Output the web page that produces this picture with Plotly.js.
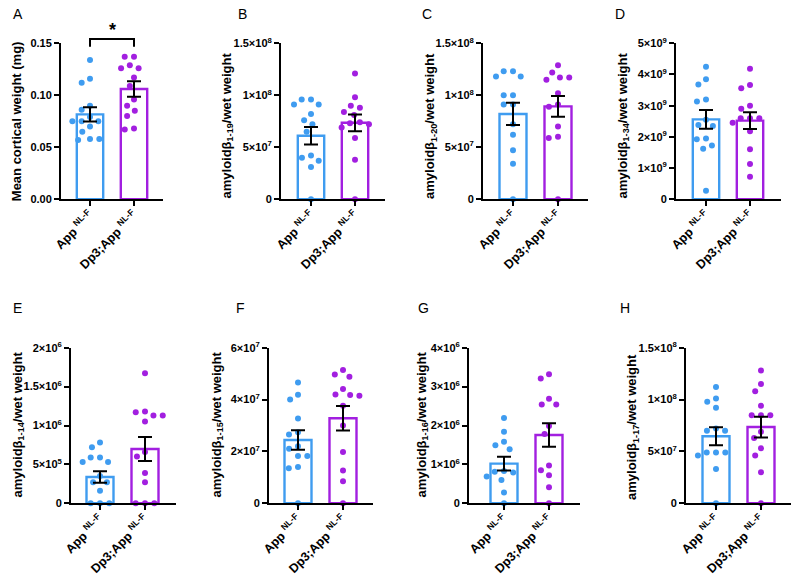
<!DOCTYPE html>
<html>
<head>
<meta charset="utf-8">
<script src="https://cdn.plot.ly/plotly-3.0.1.min.js"></script>
<style>html,body{margin:0;padding:0;background:#fff}#chart{width:800px;height:577px}</style>
</head>
<body>
<div id="chart"></div>
<script>
// ---------- data ----------
const categories = ['App <sup>NL-F</sup>', 'Dp3;App <sup>NL-F</sup>'];
const panelLetters = ['A', 'B', 'C', 'D', 'E', 'F', 'G', 'H'];
const yTitles = [
  'Mean cortical weight (mg)',
  'amyloidβ<sub>1-19</sub>/wet weight',
  'amyloidβ<sub>1-20</sub>/wet weight',
  'amyloidβ<sub>1-34</sub>/wet weight',
  'amyloidβ<sub>1-14</sub>/wet weight',
  'amyloidβ<sub>1-15</sub>/wet weight',
  'amyloidβ<sub>1-16</sub>/wet weight',
  'amyloidβ<sub>1-17</sub>/wet weight'
];

const appA = [0.134, 0.116, 0.112, 0.090, 0.086, 0.079, 0.075, 0.075, 0.075, 0.070, 0.065, 0.058, 0.058, 0.057];
const dp3A = [0.137, 0.137, 0.129, 0.126, 0.126, 0.117, 0.109, 0.096, 0.090, 0.085, 0.080, 0.068, 0.067];
const meanA = [0.0816, 0.1060];
const semA = [0.0068, 0.0075];

const appB = [9.6e7, 9.6e7, 9.1e7, 9.1e7, 8.2e7, 7.6e7, 7.2e7, 6.5e7, 4.2e7, 4.0e7, 3.7e7, 3.1e7, 0];
const dp3B = [1.21e8, 9.8e7, 9.0e7, 8.8e7, 8.4e7, 8.1e7, 7.4e7, 7.3e7, 7.2e7, 6.9e7, 5.9e7, 3.8e7, 0];
const meanB = [6.1e7, 7.35e7];
const semB = [0.835e7, 0.805e7];

const appC = [1.23e8, 1.23e8, 1.18e8, 1.18e8, 1.0e8, 1.0e8, 9.1e7, 9.1e7, 7.2e7, 6.2e7, 4.7e7, 3.4e7, 0];
const dp3C = [1.29e8, 1.22e8, 1.17e8, 1.17e8, 1.15e8, 1.02e8, 9.1e7, 8.9e7, 7.0e7, 6.0e7, 5.9e7, 0];
const meanC = [8.2e7, 8.93e7];
const semC = [1.07e7, 1.0e7];

const appD = [4.25e9, 3.85e9, 3.68e9, 3.2e9, 3.13e9, 2.55e9, 2.38e9, 2.35e9, 1.95e9, 1.92e9, 1.72e9, 1.62e9, 0.27e9];
const dp3D = [4.18e9, 3.66e9, 3.56e9, 3.0e9, 2.9e9, 2.6e9, 2.6e9, 2.6e9, 2.45e9, 2.18e9, 1.6e9, 1.13e9, 0.72e9];
const meanD = [2.56e9, 2.52e9];
const semD = [0.30e9, 0.27e9];

const appE = [7.8e5, 7.2e5, 5.9e5, 5.9e5, 5.3e5, 5.3e5, 3.5e5, 2.7e5, 2.7e5, 1.6e5, 0, 0, 0];
const dp3E = [1.67e6, 1.18e6, 1.17e6, 1.13e6, 1.13e6, 1.05e6, 6.6e5, 6.0e5, 3.9e5, 2.7e5, 0, 0, 0];
const meanE = [3.38e5, 6.98e5];
const semE = [0.73e5, 1.54e5];

const appF = [4.66e7, 4.19e7, 4.0e7, 3.27e7, 2.74e7, 2.65e7, 2.2e7, 2.1e7, 1.82e7, 1.82e7, 1.4e7, 1.35e7, 0];
const dp3F = [5.14e7, 4.97e7, 4.88e7, 4.41e7, 4.2e7, 4.18e7, 4.15e7, 3.76e7, 3.0e7, 1.98e7, 1.26e7, 0.85e7, 0];
const meanF = [2.44e7, 3.28e7];
const semF = [0.375e7, 0.475e7];

const appG = [2.19e6, 1.84e6, 1.58e6, 1.49e6, 1.39e6, 8.3e5, 8.1e5, 7.9e5, 6.9e5, 6.0e5, 2.8e5, 0];
const dp3G = [3.32e6, 3.21e6, 2.69e6, 2.54e6, 2.54e6, 1.99e6, 1.78e6, 9.7e5, 8.5e5, 7.2e5, 4.1e5, 0];
const meanG = [1.02e6, 1.756e6];
const semG = [0.176e6, 0.30e6];

const appH = [1.12e8, 1.01e8, 9.8e7, 9.2e7, 7.2e7, 7.0e7, 7.0e7, 4.9e7, 4.9e7, 4.9e7, 4.6e7, 3.3e7, 0];
const dp3H = [1.28e8, 1.15e8, 1.08e8, 9.4e7, 8.5e7, 8.5e7, 8.5e7, 6.9e7, 6.3e7, 5.3e7, 4.6e7, 3.0e7, 0];
const meanH = [6.46e7, 7.35e7];
const semH = [0.87e7, 0.995e7];

const tickValsA = [0, 0.05, 0.10, 0.15];
const tickTextA = ['0.00', '0.05', '0.10', '0.15'];
const tickVals15e8 = [0, 5e7, 1e8, 1.5e8];
const tickText15e8 = ['0', '5×10<sup>7</sup>', '1×10<sup>8</sup>', '1.5×10<sup>8</sup>'];
const tickValsD = [0, 1e9, 2e9, 3e9, 4e9, 5e9];
const tickTextD = ['0', '1×10<sup>9</sup>', '2×10<sup>9</sup>', '3×10<sup>9</sup>', '4×10<sup>9</sup>', '5×10<sup>9</sup>'];
const tickValsE = [0, 5e5, 1e6, 1.5e6, 2e6];
const tickTextE = ['0', '5×10<sup>5</sup>', '1×10<sup>6</sup>', '1.5×10<sup>6</sup>', '2×10<sup>6</sup>'];
const tickValsF = [0, 2e7, 4e7, 6e7];
const tickTextF = ['0', '2×10<sup>7</sup>', '4×10<sup>7</sup>', '6×10<sup>7</sup>'];
const tickValsG = [0, 1e6, 2e6, 3e6, 4e6];
const tickTextG = ['0', '1×10<sup>6</sup>', '2×10<sup>6</sup>', '3×10<sup>6</sup>', '4×10<sup>6</sup>'];

// ---------- layout config ----------
const W = 800, H = 577;
const BLUE = '#3f9cf0', PURPLE = '#a21fe0';
const FONT = 'Liberation Sans, Arial, Helvetica, sans-serif';

const topRow = [43.3, 199.2], botRow = [347.7, 503.3];
// [axisLeftPx, tick0Px, tick1Px, axisEndPx]
const panels = [
  {app: appA, dp3: dp3A, mean: meanA, sem: semA, tv: tickValsA, tt: tickTextA, ymax: 0.15, px: [61, 90, 134, 163], row: topRow, letter: [18, 14], title: [16.2, 121]},
  {app: appB, dp3: dp3B, mean: meanB, sem: semB, tv: tickVals15e8, tt: tickText15e8, ymax: 1.5e8, px: [281, 311, 355, 385], row: topRow, letter: [242, 14], title: [227.5, 126]},
  {app: appC, dp3: dp3C, mean: meanC, sem: semC, tv: tickVals15e8, tt: tickText15e8, ymax: 1.5e8, px: [483, 513, 558, 588], row: topRow, letter: [427, 14], title: [431, 126]},
  {app: appD, dp3: dp3D, mean: meanD, sem: semD, tv: tickValsD, tt: tickTextD, ymax: 5e9, px: [676, 706, 750, 781], row: topRow, letter: [620, 14], title: [623.5, 126]},
  {app: appE, dp3: dp3E, mean: meanE, sem: semE, tv: tickValsE, tt: tickTextE, ymax: 2e6, px: [71, 100, 145, 176], row: botRow, letter: [17, 308], title: [17.5, 425]},
  {app: appF, dp3: dp3F, mean: meanF, sem: semF, tv: tickValsF, tt: tickTextF, ymax: 6e7, px: [269, 298, 343, 373], row: botRow, letter: [240, 308], title: [216.5, 425]},
  {app: appG, dp3: dp3G, mean: meanG, sem: semG, tv: tickValsG, tt: tickTextG, ymax: 4e6, px: [469, 504, 549, 580], row: botRow, letter: [423, 308], title: [421.5, 425]},
  {app: appH, dp3: dp3H, mean: meanH, sem: semH, tv: tickVals15e8, tt: tickText15e8, ymax: 1.5e8, px: [686, 716, 761, 791], row: botRow, letter: [625, 308], title: [632, 427]}
];

// beeswarm placement (pixel space), returns x positions in data units
function swarm(vals, center, pxPerX, pxPerY, d) {
  const order = vals.map((v, i) => i).sort((a, b) => vals[b] - vals[a]);
  const placed = [];
  const xs = new Array(vals.length);
  for (const i of order) {
    const y = vals[i] * pxPerY;
    const iv = [];
    for (const p of placed) {
      const dy = Math.abs(p.y - y);
      if (dy < d) { const dx = Math.sqrt(d * d - dy * dy); iv.push([p.x - dx, p.x + dx]); }
    }
    const cands = [0];
    iv.forEach(r => cands.push(r[0], r[1]));
    cands.sort((a, b) => Math.abs(a) - Math.abs(b));
    let best = 0;
    for (const c of cands) {
      if (iv.every(r => c <= r[0] + 1e-6 || c >= r[1] - 1e-6)) { best = c; break; }
    }
    placed.push({x: best, y: y});
    xs[i] = center + best / pxPerX;
  }
  return xs;
}

const traces = [];
const layout = {
  width: W, height: H,
  margin: {l: 0, r: 0, t: 0, b: 0},
  paper_bgcolor: '#fff', plot_bgcolor: 'rgba(0,0,0,0)',
  showlegend: false,
  font: {family: FONT, color: '#000'},
  annotations: [], shapes: []
};

panels.forEach((p, k) => {
  const n = k === 0 ? '' : String(k + 1);
  const xa = 'x' + n, ya = 'y' + n;
  const [axL, t0, t1, axR] = p.px;
  const sp = t1 - t0;
  const xr = [-(t0 - axL) / sp, 1 + (axR - t1) / sp];
  const pxPerX = sp;
  const pxPerY = (p.row[1] - p.row[0]) / p.ymax;

  layout['xaxis' + n] = {
    domain: [axL / W, axR / W], anchor: ya, range: xr,
    tickmode: 'array', tickvals: [0, 1], ticktext: categories, tickangle: -45,
    ticks: 'outside', ticklen: 5, tickwidth: 2, tickcolor: '#000', ticklabelstandoff: -3,
    showline: true, linewidth: 2, linecolor: '#000', showgrid: false, zeroline: false,
    tickfont: {family: FONT, size: 12.5, weight: 'bold', color: '#000'}, fixedrange: true
  };
  layout['yaxis' + n] = {
    domain: [1 - p.row[1] / H, 1 - p.row[0] / H], anchor: xa, range: [0, p.ymax],
    tickmode: 'array', tickvals: p.tv, ticktext: p.tt,
    ticks: 'outside', ticklen: 5, tickwidth: 2, tickcolor: '#000',
    showline: true, linewidth: 2, linecolor: '#000', showgrid: false, zeroline: false,
    tickfont: {family: FONT, size: 11, weight: 'bold', color: '#000'}, fixedrange: true
  };

  traces.push({
    type: 'bar', x: [0, 1], y: p.mean, width: 0.6, xaxis: xa, yaxis: ya,
    marker: {color: 'rgba(255,255,255,0)', line: {color: [BLUE, PURPLE], width: 2.4}},
    hoverinfo: 'skip'
  });
  traces.push({
    type: 'scatter', mode: 'markers', xaxis: xa, yaxis: ya, cliponaxis: false,
    x: swarm(p.app, 0, pxPerX, pxPerY, 9.3), y: p.app,
    marker: {color: BLUE, size: 6}, hoverinfo: 'skip'
  });
  traces.push({
    type: 'scatter', mode: 'markers', xaxis: xa, yaxis: ya, cliponaxis: false,
    x: swarm(p.dp3, 1, pxPerX, pxPerY, 9.3), y: p.dp3,
    marker: {color: PURPLE, size: 6}, hoverinfo: 'skip'
  });
  traces.push({
    type: 'scatter', mode: 'markers', xaxis: xa, yaxis: ya, cliponaxis: false,
    x: [0, 1], y: p.mean,
    marker: {color: 'rgba(0,0,0,0)', size: 1},
    error_y: {type: 'data', array: p.sem, visible: true, color: '#000', thickness: 2, width: 7},
    hoverinfo: 'skip'
  });

  layout.annotations.push({
    text: panelLetters[k], xref: 'paper', yref: 'paper',
    x: p.letter[0] / W, y: 1 - p.letter[1] / H, xanchor: 'center', yanchor: 'middle',
    showarrow: false, font: {family: FONT, size: 14, color: '#000'}
  });
  layout.annotations.push({
    text: yTitles[k], xref: 'paper', yref: 'paper', textangle: -90,
    x: p.title[0] / W, y: 1 - p.title[1] / H, xanchor: 'center', yanchor: 'middle',
    showarrow: false, font: {family: FONT, size: 13, weight: 'bold', color: '#000'}
  });

  if (k === 0) {
    const f0 = (0 - xr[0]) / (xr[1] - xr[0]);
    const f1 = (1 - xr[0]) / (xr[1] - xr[0]);
    const h = p.row[1] - p.row[0];
    const yTop = 1 + (p.row[0] - 39) / h, yBot = 1 - (46.7 - p.row[0]) / h;
    layout.shapes.push({
      type: 'path', xref: 'x domain', yref: 'y domain',
      path: `M ${f0} ${yBot} L ${f0} ${yTop} L ${f1} ${yTop} L ${f1} ${yBot}`,
      line: {color: '#000', width: 2}
    });
    layout.annotations.push({
      text: '<b>*</b>', xref: 'x domain', yref: 'paper',
      x: (f0 + f1) / 2, y: 1 - 30 / H, xanchor: 'center', yanchor: 'middle',
      showarrow: false, font: {family: FONT, size: 18, color: '#000'}
    });
  }
});

Plotly.newPlot('chart', traces, layout, {staticPlot: true, displayModeBar: false});
</script>
</body>
</html>
